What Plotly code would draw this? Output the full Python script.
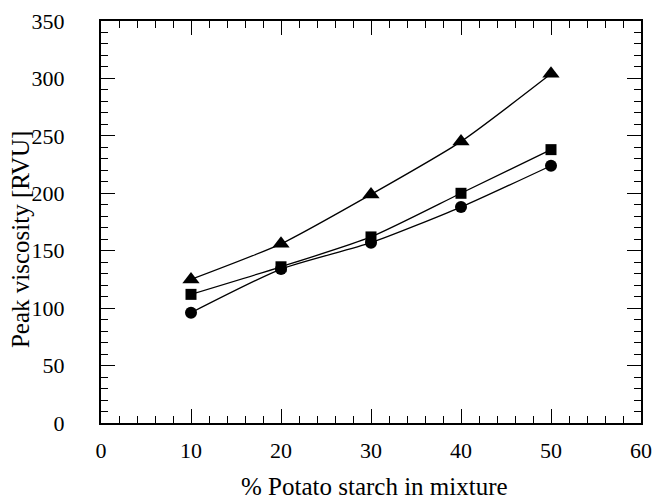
import plotly.graph_objects as go

x = [10, 20, 30, 40, 50]
triangle_vals = [125, 156, 199, 245, 304]
square_vals = [112, 136, 162, 200, 238]
circle_vals = [96, 134, 157, 188, 224]

series = [
    ("Triangle", triangle_vals, "triangle-up", 15),
    ("Square", square_vals, "square", 11),
    ("Circle", circle_vals, "circle", 12),
]

fig = go.Figure()
for name, vals, sym, sz in series:
    fig.add_trace(go.Scatter(
        x=x, y=vals, mode="lines+markers", name=name,
        line=dict(color="black", width=1.3, shape="spline", smoothing=0.6),
        marker=dict(symbol=sym, size=sz, color="black"),
        showlegend=False,
    ))

font = dict(family="Liberation Serif, Times New Roman, serif", size=22, color="black")
title_font = dict(family="Liberation Serif, Times New Roman, serif", size=25, color="black")
axis_common = dict(
    showline=True, linecolor="black", linewidth=2, mirror="ticks",
    ticks="inside", ticklen=14, tickwidth=1.2, tickcolor="black",
    showgrid=False, zeroline=False, tickfont=font, automargin=False,
)
fig.update_xaxes(range=[0, 60], dtick=10, tick0=0,
                 minor=dict(dtick=2, ticks="inside", ticklen=7, tickwidth=1.2, tickcolor="black"),
                 ticklabelstandoff=7,
                 **axis_common)
fig.update_yaxes(range=[0, 350], dtick=50, tick0=0,
                 minor=dict(dtick=10, ticks="inside", ticklen=7, tickwidth=1.2, tickcolor="black"),
                 ticklabelstandoff=30,
                 **axis_common)
fig.add_annotation(text="% Potato starch in mixture", xref="paper", yref="paper",
                   x=0.507, y=-0.159, xanchor="center", yanchor="middle",
                   showarrow=False, font=title_font)
fig.add_annotation(text="Peak viscosity [RVU]", xref="paper", yref="paper",
                   x=-0.15, y=0.455, xanchor="center", yanchor="middle",
                   textangle=-90, showarrow=False, font=title_font)
fig.update_layout(
    width=654, height=502,
    margin=dict(l=101, r=13, t=21, b=79),
    paper_bgcolor="white", plot_bgcolor="white",
    font=font,
)
fig.write_html("out.html", config={"displayModeBar": False},
               post_script="document.body.style.margin='0';document.body.style.padding='0';")
